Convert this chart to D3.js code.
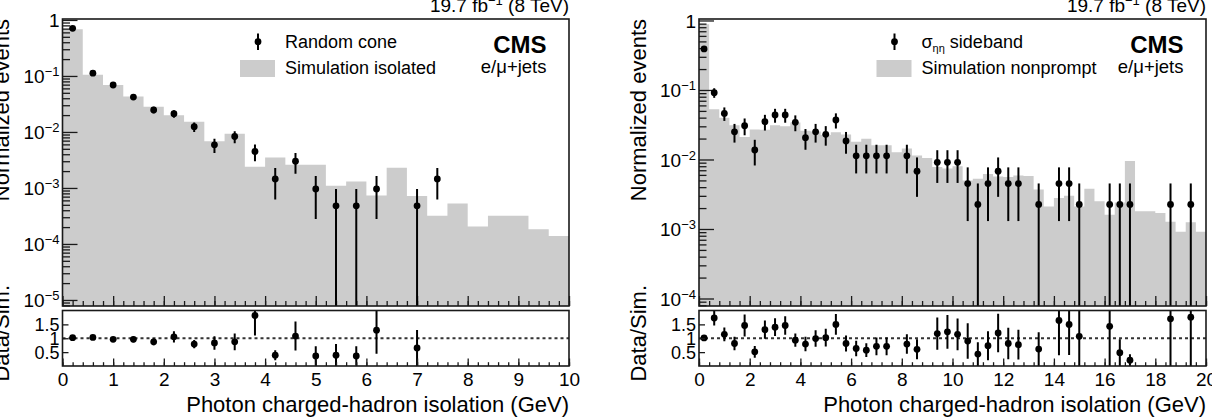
<!DOCTYPE html>
<html><head><meta charset="utf-8">
<script src="https://cdn.jsdelivr.net/npm/d3@7"></script>
<style>body{margin:0;background:#fff}</style>
</head><body>
<svg id="c" width="1212" height="418" xmlns="http://www.w3.org/2000/svg"></svg>
<script>
// ---------- data ----------
const binWidth = 0.4;

// Left panel: Random cone vs Simulation isolated
const leftSim = [0.68,0.105,0.069,0.043,0.0283,0.0199,0.0152,0.0068,0.0093,0.0024,0.0035,0.0026,0.0026,0.0011,0.0013,0.00073,0.0023,0.00072,0.00032,0.00053,0.000204,0.00032,0.00032,0.000183,0.000139];
const leftDataX = [0.2,0.6,1.0,1.4,1.8,2.2,2.6,3.0,3.4,3.8,4.2,4.6,5.0,5.4,5.8,6.2,7.0,7.4];
const leftDataY = [0.71,0.112,0.069,0.042,0.0247,0.0212,0.0124,0.0059,0.0083,0.0045,0.00145,0.0030,0.00096,0.00048,0.00048,0.00096,0.00048,0.00145];
const leftDataErr = [0.02,0.007,0.0058,0.0045,0.0034,0.0032,0.0024,0.0017,0.002,0.0015,0.00083,0.0012,0.00068,0.00048,0.00048,0.00068,0.00048,0.00083];
const leftRatio = [1.02,1.03,0.96,0.96,0.87,1.05,0.79,0.83,0.87,1.82,0.39,1.08,0.36,0.39,0.36,1.29,0.65,4.5];
const leftRatioErr = [0.03,0.07,0.08,0.10,0.12,0.2,0.15,0.24,0.3,0.72,0.18,0.52,0.35,0.4,0.35,0.85,0.65,2.6];
const leftXTicks = [0,1,2,3,4,5,6,7,8,9,10];

// Right panel: sigma_etaeta sideband vs Simulation nonprompt
const rightSim = [0.88,0.0529,0.040,0.031,0.021,0.027,0.0267,0.0312,0.030,0.034,0.026,0.0253,0.0225,0.0247,0.0228,0.018,0.0199,0.016,0.016,0.0127,0.0144,0.0114,0.0105,0.0078,0.0074,0.008,0.005,0.0053,0.0062,0.0057,0.0056,0.0059,0.0058,0.0037,0.0021,0.0028,0.003,0.0021,0.0038,0.0025,0.0016,0.0024,0.0095,0.0018,0.0018,0.0017,0.00127,0.00091,0.00125,0.00091];
const rightDataX = [0.2,0.6,1.0,1.4,1.8,2.2,2.6,3.0,3.4,3.8,4.2,4.6,5.0,5.4,5.8,6.2,6.6,7.0,7.4,8.2,8.6,9.4,9.8,10.2,10.6,11.0,11.4,11.8,12.2,12.6,13.4,14.2,14.6,15.0,16.2,16.6,17.0,18.6,19.4];
const rightDataY = [0.39,0.0915,0.046,0.025,0.0306,0.0137,0.035,0.0437,0.0437,0.0343,0.0206,0.025,0.023,0.037,0.0185,0.0113,0.0113,0.0113,0.0113,0.0113,0.0068,0.0091,0.0091,0.0091,0.0045,0.00226,0.0045,0.0068,0.0045,0.0045,0.00226,0.0045,0.0045,0.00226,0.00226,0.00226,0.00226,0.00226,0.00226];
const rightDataErr = [0.03,0.0144,0.0101,0.0075,0.0083,0.0055,0.0089,0.0099,0.0099,0.0088,0.0068,0.0075,0.0072,0.0091,0.0064,0.0050,0.0050,0.0050,0.0050,0.0050,0.0039,0.0045,0.0045,0.0045,0.0032,0.00226,0.0032,0.0039,0.0032,0.0032,0.00226,0.0032,0.0032,0.00226,0.00226,0.00226,0.00226,0.00226,0.00226];
const rightRatio = [1.01,1.73,1.14,0.81,1.46,0.51,1.31,1.40,1.46,0.93,0.79,0.99,1.02,1.5,0.81,0.63,0.57,0.71,0.71,0.79,0.60,1.17,1.23,1.14,0.90,0.43,0.73,1.19,0.81,0.77,0.61,1.64,1.50,1.07,1.43,0.48,0.21,1.70,1.76];
const rightRatioErr = [0.08,0.27,0.25,0.24,0.40,0.21,0.33,0.32,0.33,0.24,0.26,0.30,0.32,0.37,0.29,0.28,0.25,0.32,0.32,0.35,0.36,0.58,0.61,0.57,0.64,0.43,0.52,0.69,0.57,0.54,0.61,1.25,1.1,1.07,1.43,0.48,0.21,1.70,1.76];
const rightXTicks = [0,2,4,6,8,10,12,14,16,18,20];

const ratioTicks = [0.5,1,1.5];

// ---------- drawing ----------
const FONT = "'Liberation Sans', Arial, Helvetica, sans-serif";
const svg = d3.select("#c");
const TOP = 19, MAIN_B = 306, R_TOP = 310.5, R_B = 366;
const FRAME = "#1a1a1a";

function panel(cfg, id){
  const g = svg.append("g").attr("font-family", FONT);
  const x = d3.scaleLinear().domain(cfg.xDomain).range([cfg.left, cfg.right]);
  const y = d3.scaleLog().domain(cfg.yDomain).range([MAIN_B, TOP]);
  const yr = d3.scaleLinear().domain([0,2]).range([R_B, R_TOP]);

  const defs = g.append("defs");
  defs.append("clipPath").attr("id","cm"+id).append("rect")
    .attr("x",cfg.left).attr("y",TOP).attr("width",cfg.right-cfg.left).attr("height",MAIN_B-TOP);
  defs.append("clipPath").attr("id","cr"+id).append("rect")
    .attr("x",cfg.left).attr("y",R_TOP).attr("width",cfg.right-cfg.left).attr("height",R_B-R_TOP);

  // histogram
  const hd = cfg.sim.map((v,i)=>({x:i*binWidth, v}));
  hd.push({x:cfg.sim.length*binWidth, v:cfg.sim[cfg.sim.length-1]});
  const area = d3.area().curve(d3.curveStepAfter)
    .x(d=>x(d.x)).y0(MAIN_B).y1(d=>y(Math.max(d.v, cfg.yDomain[0])));
  g.append("path").attr("clip-path",`url(#cm${id})`).attr("d",area(hd)).attr("fill","#cccccc");

  // main axes ticks
  const styleAxis = s => { s.select(".domain").remove(); s.selectAll("line").attr("stroke",FRAME).attr("stroke-width",1.3); s.attr("font-family",FONT); };
  const minorX = d3.range(cfg.xDomain[0], cfg.xDomain[1]+1e-9, cfg.minorStep);
  g.append("g").attr("transform",`translate(0,${MAIN_B})`)
    .call(d3.axisBottom(x).tickValues(cfg.xTicks).tickSize(-10).tickFormat("")).call(styleAxis);
  g.append("g").attr("transform",`translate(0,${MAIN_B})`)
    .call(d3.axisBottom(x).tickValues(minorX).tickSize(-5).tickFormat("")).call(styleAxis);

  const decades = [], minorY = [];
  for(let e=-6;e<=0;e++){
    const v = Math.pow(10,e);
    if(v>=cfg.yDomain[0] && v<=cfg.yDomain[1]) decades.push(v);
    for(let m=2;m<=9;m++){ const w=m*v; if(w>=cfg.yDomain[0] && w<=cfg.yDomain[1]) minorY.push(w); }
  }
  g.append("g").attr("transform",`translate(${cfg.left},0)`)
    .call(d3.axisLeft(y).tickValues(minorY).tickSize(-7.5).tickFormat("")).call(styleAxis);
  const ya = g.append("g").attr("transform",`translate(${cfg.left},0)`)
    .call(d3.axisLeft(y).tickValues(decades).tickSize(-15).tickPadding(3)).call(styleAxis);
  ya.attr("font-size",19);
  ya.selectAll(".tick text").attr("fill","#000").attr("dy","0.36em").each(function(d){
    const t = d3.select(this); const e = Math.round(Math.log10(d));
    t.text(null);
    if(e===0){ t.text("1"); }
    else { t.append("tspan").text("10"); t.append("tspan").attr("dy",-7).attr("font-size",13).text("\u2212"+(-e)); }
  });

  // data points main
  const dm = g.append("g").attr("clip-path",`url(#cm${id})`);
  cfg.dataX.forEach((xv,i)=>{
    const v = cfg.dataY[i], e = cfg.dataErr[i];
    const lo = v-e > 0 ? y(v-e) : MAIN_B+5;
    dm.append("line").attr("x1",x(xv)).attr("x2",x(xv)).attr("y1",lo).attr("y2",y(v+e))
      .attr("stroke","#000").attr("stroke-width",2);
    dm.append("circle").attr("cx",x(xv)).attr("cy",y(v)).attr("r",3.4).attr("fill","#000");
  });

  // main frame
  g.append("rect").attr("x",cfg.left).attr("y",TOP).attr("width",cfg.right-cfg.left).attr("height",MAIN_B-TOP)
    .attr("fill","none").attr("stroke",FRAME).attr("stroke-width",1.6);

  // ratio panel
  g.append("line").attr("x1",cfg.left).attr("x2",cfg.right).attr("y1",yr(1)).attr("y2",yr(1))
    .attr("stroke","#333").attr("stroke-width",1.8).attr("stroke-dasharray","3,3");
  const dr = g.append("g").attr("clip-path",`url(#cr${id})`);
  cfg.dataX.forEach((xv,i)=>{
    const r = cfg.ratio[i], e = cfg.ratioErr[i];
    if(r>2 || r<0) return;
    dr.append("line").attr("x1",x(xv)).attr("x2",x(xv)).attr("y1",yr(r-e)).attr("y2",yr(r+e))
      .attr("stroke","#000").attr("stroke-width",2);
    dr.append("circle").attr("cx",x(xv)).attr("cy",yr(r)).attr("r",3.4).attr("fill","#000");
  });
  const rx = g.append("g").attr("transform",`translate(0,${R_B})`)
    .call(d3.axisBottom(x).tickValues(cfg.xTicks).tickSize(-7.5).tickPadding(0)).call(styleAxis);
  rx.attr("font-size",19);
  rx.selectAll(".tick text").attr("fill","#000").attr("dy",null).attr("y",19.5);
  g.append("g").attr("transform",`translate(0,${R_B})`)
    .call(d3.axisBottom(x).tickValues(minorX).tickSize(-3.8).tickFormat("")).call(styleAxis);
  const ry = g.append("g").attr("transform",`translate(${cfg.left},0)`)
    .call(d3.axisLeft(yr).tickValues(ratioTicks).tickSize(-6).tickPadding(3)
      .tickFormat(d=> d===1 ? "1" : d3.format(".1f")(d))).call(styleAxis);
  ry.attr("font-size",18);
  ry.selectAll(".tick text").attr("fill","#000").attr("dy","0.34em");
  g.append("rect").attr("x",cfg.left).attr("y",R_TOP).attr("width",cfg.right-cfg.left).attr("height",R_B-R_TOP)
    .attr("fill","none").attr("stroke",FRAME).attr("stroke-width",1.6);

  // axis titles
  g.append("text").attr("x",cfg.right).attr("y",412).attr("text-anchor","end").attr("font-size",22)
    .text("Photon charged-hadron isolation (GeV)");
  g.append("text").attr("transform",`translate(${cfg.left-53.5},${TOP}) rotate(-90)`).attr("text-anchor","end")
    .attr("font-size",22).text("Normalized events");
  g.append("text").attr("transform",`translate(${cfg.left-53.5},285) rotate(-90)`).attr("text-anchor","end")
    .attr("font-size",22).text("Data/Sim.");

  // lumi label
  const lt = g.append("text").attr("x",cfg.right).attr("y",12).attr("text-anchor","end").attr("font-size",19);
  lt.append("tspan").text("19.7 fb");
  lt.append("tspan").attr("dy",-7).attr("font-size",13).text("\u22121");
  lt.append("tspan").attr("dy",7).text(" (8 TeV)");

  // CMS labels
  g.append("text").attr("x",cfg.right-22.5).attr("y",52.5).attr("text-anchor","end").attr("font-size",24)
    .attr("font-weight","bold").text("CMS");
  g.append("text").attr("x",cfg.right-22.5).attr("y",73).attr("text-anchor","end").attr("font-size",18.5)
    .text("e/\u03bc+jets");

  // legend
  const lx = cfg.left+195.5;
  g.append("line").attr("x1",lx).attr("x2",lx).attr("y1",33.5).attr("y2",50).attr("stroke","#000").attr("stroke-width",2);
  g.append("circle").attr("cx",lx).attr("cy",41.7).attr("r",3.4).attr("fill","#000");
  g.append("rect").attr("x",cfg.left+177.5).attr("y",60).attr("width",35).attr("height",17).attr("fill","#cccccc");
  const t1 = g.append("text").attr("x",cfg.left+222.5).attr("y",48).attr("font-size",18);
  cfg.legend1(t1);
  g.append("text").attr("x",cfg.left+222.5).attr("y",74).attr("font-size",18).text(cfg.legend2);
}

panel({
  left:62.5, right:569, xDomain:[0,10], yDomain:[7.8e-6,1.04], xTicks:leftXTicks, minorStep:0.2,
  sim:leftSim, dataX:leftDataX, dataY:leftDataY, dataErr:leftDataErr, ratio:leftRatio, ratioErr:leftRatioErr,
  legend1: t=>t.text("Random cone"), legend2:"Simulation isolated"
}, "L");

panel({
  left:699, right:1206, xDomain:[0,20], yDomain:[7.8e-5,1.05], xTicks:rightXTicks, minorStep:0.4,
  sim:rightSim, dataX:rightDataX, dataY:rightDataY, dataErr:rightDataErr, ratio:rightRatio, ratioErr:rightRatioErr,
  legend1: t=>{ t.append("tspan").text("\u03c3"); t.append("tspan").attr("dy",4).attr("font-size",11).text("\u03b7\u03b7");
                t.append("tspan").attr("dy",-4).text(" sideband"); },
  legend2:"Simulation nonprompt"
}, "R");
</script>
</body></html>
